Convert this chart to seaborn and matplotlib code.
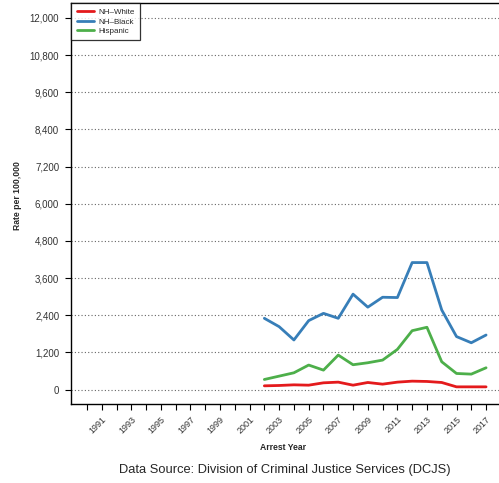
import numpy as np
import pandas as pd
import matplotlib
matplotlib.use("Agg")
import matplotlib.pyplot as plt
import seaborn as sns
from matplotlib.lines import Line2D

years = list(range(2002, 2018))
nh_white = [119, 130, 151, 140, 216, 238, 140, 227, 173, 238, 270, 260, 227, 86, 86, 86]
nh_black = [2300, 2030, 1600, 2225, 2460, 2300, 3080, 2660, 2980, 2970, 4100, 4100, 2570, 1710, 1510, 1760]
hispanic = [324, 432, 540, 790, 626, 1112, 800, 864, 950, 1296, 1900, 2010, 896, 518, 497, 702]
series_names = ["NH\u2013White", "NH\u2013Black", "Hispanic"]
colors = ["#E41A1C", "#377EB8", "#4DAF4A"]
y_ticks = [0, 1200, 2400, 3600, 4800, 6000, 7200, 8400, 9600, 10800, 12000]
x_ticks = list(range(1990, 2018))
x_labels = [str(y) if y % 2 == 1 else "" for y in x_ticks]

df = pd.DataFrame({
    "year": years * 3,
    "rate": nh_white + nh_black + hispanic,
    "group": [series_names[0]] * 16 + [series_names[1]] * 16 + [series_names[2]] * 16,
})

sns.set_style("white")
plt.rcParams["font.family"] = ["Liberation Sans", "DejaVu Sans"]

W, H = 499, 483
fig = plt.figure(figsize=(W / 100, H / 100), dpi=100)
ax = fig.add_axes([71 / W, 1 - 404 / H, (W - 71) / W, (404 - 3) / H])

for yv in y_ticks:
    ax.axhline(yv, color="#666666", lw=0.8, ls=(0, (1, 2)), zorder=0)

sns.lineplot(data=df, x="year", y="rate", hue="group", palette=colors,
             hue_order=series_names, linewidth=2.0, ax=ax, legend=False, zorder=3)

ax.set_xlim(1988.92, 2017.875)
ax.set_ylim(-468, 12484)
ax.set_yticks(y_ticks)
ax.set_yticklabels([f"{v:,}" for v in y_ticks], fontsize=7, color="#333333")
ax.set_xticks(x_ticks)
ax.set_xticklabels(x_labels, rotation=45, ha="right", rotation_mode="anchor",
                   fontsize=6.5, color="#333333")
ax.tick_params(axis="both", which="both", direction="out", length=4.5, width=0.8,
               color="black", left=True, bottom=True)
ax.tick_params(axis="y", pad=4)
ax.tick_params(axis="x", pad=3)
for s in ["left", "bottom", "top"]:
    ax.spines[s].set_color("black")
    ax.spines[s].set_linewidth(1.0)
ax.spines["right"].set_visible(False)
ax.set_xlabel("")
ax.set_ylabel("")

handles = [Line2D([0], [0], color=c, lw=2.0) for c in colors]
leg = ax.legend(handles, series_names, loc="upper left", bbox_to_anchor=(0.0, 1.0),
                fontsize=5.8, frameon=True, fancybox=False, handlelength=2.2,
                borderpad=0.7, labelspacing=0.2, handletextpad=0.5, borderaxespad=0)
leg.get_frame().set_edgecolor("black")
leg.get_frame().set_linewidth(0.9)

fig.text(17 / W, 1 - 196 / H, "Rate per 100,000", rotation=90, ha="center", va="center",
         fontsize=6.2, fontweight="bold")
fig.text(283 / W, 1 - 448 / H, "Arrest Year", ha="center", va="center",
         fontsize=6.2, fontweight="bold")
fig.text(285 / W, 1 - 470 / H, "Data Source: Division of Criminal Justice Services (DCJS)",
         ha="center", va="center", fontsize=9.3)

fig.savefig("out.png", dpi=100)
